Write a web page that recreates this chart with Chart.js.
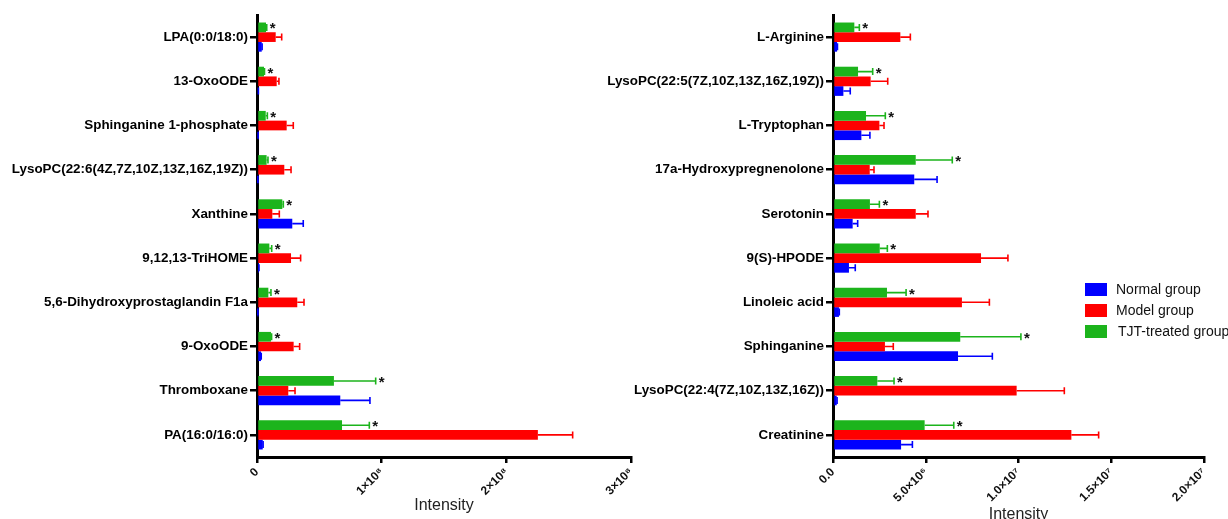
<!DOCTYPE html>
<html><head><meta charset="utf-8">
<script src="https://cdn.jsdelivr.net/npm/chart.js@4.4.1/dist/chart.umd.min.js"></script>
<style>
html,body{margin:0;padding:0;background:#fff;overflow:hidden;width:1228px;height:519px;position:relative;}
#c1{position:absolute;left:0;top:0;}
#c2{position:absolute;left:600px;top:0;}
.lg{position:absolute;font-family:"Liberation Sans",Arial,sans-serif;font-size:14px;color:#111;white-space:nowrap;}
.lg .box{position:absolute;left:0;width:22px;height:13px;}
.lg .txt{position:absolute;left:31px;line-height:15px;}
</style>
</head>
<body>
<canvas id="c1" width="645" height="519"></canvas>
<canvas id="c2" width="628" height="524"></canvas>
<div class="lg" style="left:1085px;top:283px;"><div class="box" style="top:0;background:#0000ff"></div><div class="txt" style="top:-1px">Normal group</div></div>
<div class="lg" style="left:1085px;top:304px;"><div class="box" style="top:0;background:#ff0000"></div><div class="txt" style="top:-1px">Model group</div></div>
<div class="lg" style="left:1085px;top:325px;"><div class="box" style="top:0;background:#1cb41c"></div><div class="txt" style="top:-1px;left:33px">TJT-treated group</div></div>
<script>
const seriesNames = ['Normal group', 'Model group', 'TJT-treated group'];

const categoriesLeft = ['LPA(0:0/18:0)', '13-OxoODE', 'Sphinganine 1-phosphate', 'LysoPC(22:6(4Z,7Z,10Z,13Z,16Z,19Z))', 'Xanthine', '9,12,13-TriHOME', '5,6-Dihydroxyprostaglandin F1a', '9-OxoODE', 'Thromboxane', 'PA(16:0/16:0)'];
const normalLeft = [3.8e6, 1.0e6, 0.8e6, 0.6e6, 28.3e6, 1.5e6, 0.6e6, 3.2e6, 66.8e6, 4.6e6];
const normalErrLeft = [0.3e6, 0.1e6, 0.1e6, 0.1e6, 8.8e6, 0.1e6, 0.1e6, 0.2e6, 23.8e6, 0.3e6];
const modelLeft = [15.0e6, 15.8e6, 23.8e6, 21.9e6, 12.3e6, 27.3e6, 32.3e6, 29.4e6, 25.1e6, 225.3e6];
const modelErrLeft = [4.8e6, 1.8e6, 5.3e6, 5.4e6, 5.6e6, 7.7e6, 5.4e6, 4.8e6, 5.4e6, 27.9e6];
const tjtLeft = [7.2e6, 5.6e6, 7.0e6, 7.7e6, 20.3e6, 9.9e6, 9.1e6, 11.2e6, 61.7e6, 68.2e6];
const tjtErrLeft = [0.6e6, 0.4e6, 1.3e6, 1.1e6, 0.8e6, 1.9e6, 2.1e6, 0.5e6, 33.5e6, 21.9e6];
const tickLabelsLeft = ['0', '1×10⁸', '2×10⁸', '3×10⁸'];

const categoriesRight = ['L-Arginine', 'LysoPC(22:5(7Z,10Z,13Z,16Z,19Z))', 'L-Tryptophan', '17a-Hydroxypregnenolone', 'Serotonin', '9(S)-HPODE', 'Linoleic acid', 'Sphinganine', 'LysoPC(22:4(7Z,10Z,13Z,16Z))', 'Creatinine'];
const normalRight = [0.22e6, 0.56e6, 1.53e6, 4.38e6, 1.06e6, 0.86e6, 0.32e6, 6.74e6, 0.20e6, 3.67e6];
const normalErrRight = [0.02e6, 0.37e6, 0.46e6, 1.23e6, 0.27e6, 0.34e6, 0.02e6, 1.85e6, 0.02e6, 0.61e6];
const modelRight = [3.63e6, 2.03e6, 2.50e6, 1.98e6, 4.46e6, 7.98e6, 6.95e6, 2.80e6, 9.90e6, 12.85e6];
const modelErrRight = [0.54e6, 0.92e6, 0.25e6, 0.23e6, 0.66e6, 1.45e6, 1.48e6, 0.45e6, 2.57e6, 1.47e6];
const tjtRight = [1.15e6, 1.35e6, 1.78e6, 4.46e6, 1.99e6, 2.52e6, 2.91e6, 6.86e6, 2.39e6, 4.94e6];
const tjtErrRight = [0.27e6, 0.79e6, 1.04e6, 1.97e6, 0.51e6, 0.41e6, 1.03e6, 3.27e6, 0.90e6, 1.57e6];
const tickLabelsRight = ['0.0', '5.0×10⁶', '1.0×10⁷', '1.5×10⁷', '2.0×10⁷'];

const COL = {normal: '#0000ff', model: '#ff0000', tjt: '#1cb41c'};
const FONT = '"Liberation Sans", Arial, Helvetica, sans-serif';

const errorBarPlugin = {
  id: 'errorBars',
  afterDatasetsDraw(chart) {
    const ctx = chart.ctx;
    const xs = chart.scales.x;
    chart.data.datasets.forEach((ds, di) => {
      const meta = chart.getDatasetMeta(di);
      meta.data.forEach((bar, i) => {
        const v = ds.data[i];
        const e = ds.errors[i];
        const ex = xs.getPixelForValue(v + e);
        const y = bar.y;
        ctx.save();
        ctx.strokeStyle = ds.backgroundColor;
        ctx.lineWidth = 1.6;
        ctx.beginPath();
        ctx.moveTo(bar.x, y);
        ctx.lineTo(ex, y);
        ctx.moveTo(ex, y - 3.5);
        ctx.lineTo(ex, y + 3.5);
        ctx.stroke();
        if (ds.star) {
          ctx.fillStyle = '#111';
          ctx.font = 'bold 15px ' + FONT;
          ctx.textAlign = 'left';
          ctx.textBaseline = 'alphabetic';
          ctx.fillText('*', Math.max(ex, bar.x) + 3, y + 6);
        }
        ctx.restore();
      });
    });
  }
};

function makeChart(id, cats, normal, normalErr, model, modelErr, tjt, tjtErr, tickLabels, maxV, stepV, yWidth, xHeight, padRight, titlePad) {
  return new Chart(document.getElementById(id), {
    type: 'bar',
    data: {
      labels: cats,
      datasets: [
        {label: seriesNames[2], data: tjt, errors: tjtErr, star: true, backgroundColor: COL.tjt},
        {label: seriesNames[1], data: model, errors: modelErr, backgroundColor: COL.model},
        {label: seriesNames[0], data: normal, errors: normalErr, backgroundColor: COL.normal}
      ]
    },
    options: {
      indexAxis: 'y',
      responsive: false,
      animation: false,
      devicePixelRatio: 1,
      datasets: {bar: {categoryPercentage: 0.66, barPercentage: 1.0, borderWidth: 0}},
      layout: {padding: {top: 15, right: padRight, bottom: 0, left: 0}},
      plugins: {legend: {display: false}, tooltip: {enabled: false}},
      scales: {
        x: {
          type: 'linear', min: 0, max: maxV, z: 1,
          afterFit: s => { s.height = xHeight; },
          border: {display: true, color: '#000', width: 3},
          grid: {display: true, drawOnChartArea: false, drawTicks: true, tickLength: 6, color: '#000', lineWidth: 2.5},
          ticks: {
            stepSize: stepV, autoSkip: false, minRotation: 45, maxRotation: 45, padding: 2,
            color: '#111', font: {family: FONT, size: 12, weight: 'bold'},
            callback: (v, i) => tickLabels[i]
          },
          title: {display: true, text: 'Intensity', color: '#222', font: {family: FONT, size: 16}, padding: {top: 0, bottom: titlePad}}
        },
        y: {
          type: 'category', z: 1,
          afterFit: s => { s.width = yWidth; },
          border: {display: true, color: '#000', width: 3},
          grid: {display: true, offset: false, drawOnChartArea: false, drawTicks: true, tickLength: 7, color: '#000', lineWidth: 2.5},
          ticks: {padding: 2, color: '#000', font: {family: FONT, size: 13.4, weight: 'bold'}}
        }
      }
    },
    plugins: [errorBarPlugin]
  });
}

makeChart('c1', categoriesLeft, normalLeft, normalErrLeft, modelLeft, modelErrLeft, tjtLeft, tjtErrLeft, tickLabelsLeft, 3e8, 1e8, 257, 62, 14, 4);
makeChart('c2', categoriesRight, normalRight, normalErrRight, modelRight, modelErrRight, tjtRight, tjtErrRight, tickLabelsRight, 2e7, 5e6, 233, 67, 24, 0);
</script>
</body></html>
